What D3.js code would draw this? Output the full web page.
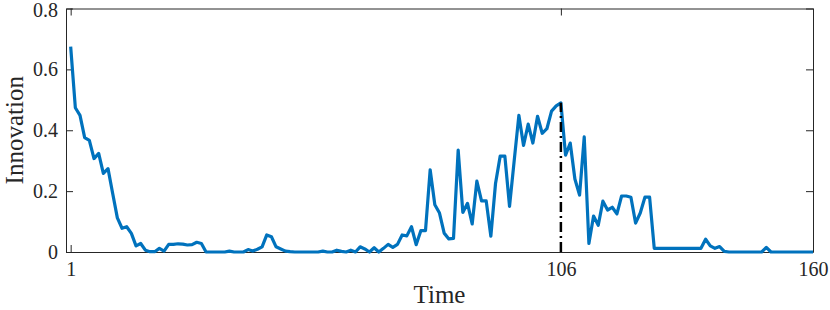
<!DOCTYPE html>
<html>
<head>
<meta charset="utf-8">
<script src="https://cdn.jsdelivr.net/npm/d3@7"></script>
<style>
  body { margin: 0; background: #fff; }
  text { font-family: "Liberation Serif", "Times New Roman", serif; fill: #262626; }
</style>
</head>
<body>
<div id="chart"></div>
<script>
// innovation per time step, 1..160
var innovation = [
  0.675, 0.474, 0.449, 0.376, 0.367, 0.307, 0.324, 0.258, 0.274, 0.192,
  0.112, 0.078, 0.083, 0.061, 0.020, 0.028, 0.006, 0.001, 0.001, 0.012,
  0.003, 0.025, 0.025, 0.027, 0.026, 0.023, 0.024, 0.032, 0.028, 0.000,
  0.000, 0.000, 0.000, 0.000, 0.003, 0.000, 0.000, 0.000, 0.008, 0.003,
  0.009, 0.017, 0.056, 0.050, 0.017, 0.010, 0.003, 0.001, 0.000, 0.000,
  0.000, 0.000, 0.000, 0.000, 0.003, 0.000, 0.000, 0.006, 0.002, 0.000,
  0.006, 0.000, 0.017, 0.010, 0.000, 0.014, 0.000, 0.012, 0.025, 0.015,
  0.025, 0.056, 0.053, 0.083, 0.024, 0.070, 0.070, 0.270, 0.155, 0.128,
  0.062, 0.043, 0.045, 0.335, 0.130, 0.160, 0.092, 0.233, 0.168, 0.168,
  0.052, 0.225, 0.315, 0.315, 0.150, 0.300, 0.449, 0.350, 0.420, 0.358,
  0.446, 0.390, 0.405, 0.463, 0.480, 0.490, 0.318, 0.358, 0.240, 0.187,
  0.378, 0.028, 0.118, 0.088, 0.167, 0.138, 0.147, 0.125, 0.184, 0.184,
  0.180, 0.095, 0.128, 0.180, 0.180, 0.012, 0.012, 0.012, 0.012, 0.012,
  0.012, 0.012, 0.012, 0.012, 0.012, 0.012, 0.042, 0.020, 0.012, 0.018,
  0.002, 0.000, 0.000, 0.000, 0.000, 0.000, 0.000, 0.000, 0.000, 0.015,
  0.000, 0.000, 0.000, 0.000, 0.000, 0.000, 0.000, 0.000, 0.000, 0.000
];
var xTicks = [1, 106, 160];
var yTicks = [0, 0.2, 0.4, 0.6, 0.8];
var markTime = 106;

var margin = {top: 8.5, right: 17, bottom: 58, left: 66};
var W = 830, H = 310;
var width = W - margin.left - margin.right;
var height = H - margin.top - margin.bottom;

var svg = d3.select("#chart").append("svg")
    .attr("width", W)
    .attr("height", H);

var g = svg.append("g")
    .attr("transform", "translate(" + margin.left + "," + margin.top + ")");

var x = d3.scaleLinear().domain([0, 160]).range([0, width]);
var y = d3.scaleLinear().domain([0, 0.8]).range([height, 0]);

var data = innovation.map(function(v, i){ return {t: i + 1, v: v}; });

// axes (MATLAB-like box with inward ticks)
var axColor = "#262626";
var tickLen = 7;

function styleAxis(sel){
    sel.select(".domain").attr("stroke", axColor).attr("stroke-width", 1);
    sel.selectAll(".tick line").attr("stroke", axColor).attr("stroke-width", 1);
}

var xAxis = g.append("g")
    .attr("transform", "translate(0," + height + ")")
    .call(d3.axisBottom(x).tickValues(xTicks).tickSize(-tickLen).tickSizeOuter(0).tickPadding(10).tickFormat(d3.format("d")));
styleAxis(xAxis);
xAxis.selectAll("text").attr("font-size", 20).attr("fill", axColor)
    .attr("font-family", "Liberation Serif, serif");

var xTop = g.append("g")
    .call(d3.axisTop(x).tickValues(xTicks).tickSize(-tickLen).tickSizeOuter(0).tickFormat(""));
styleAxis(xTop);

var yAxis = g.append("g")
    .call(d3.axisLeft(y).tickValues(yTicks).tickSize(-tickLen).tickSizeOuter(0).tickPadding(8).tickFormat(function(d){ return d === 0 ? "0" : d3.format(".1f")(d); }));
styleAxis(yAxis);
yAxis.selectAll("text").attr("font-size", 20).attr("fill", axColor)
    .attr("font-family", "Liberation Serif, serif")
    .attr("dy", function(d){ return d === 0.8 ? "0.4em" : "0.32em"; });

var yRight = g.append("g")
    .attr("transform", "translate(" + width + ",0)")
    .call(d3.axisRight(y).tickValues(yTicks).tickSize(-tickLen).tickSizeOuter(0).tickFormat(""));
styleAxis(yRight);

// series
var line = d3.line()
    .x(function(d){ return x(d.t); })
    .y(function(d){ return y(d.v); });

g.append("path")
    .datum(data)
    .attr("fill", "none")
    .attr("stroke", "#0072BD")
    .attr("stroke-width", 3.2)
    .attr("stroke-linejoin", "round")
    .attr("d", line);

// marker at t = 106
var markVal = innovation[markTime - 1];
g.append("line")
    .attr("x1", x(markTime)).attr("x2", x(markTime))
    .attr("y1", y(0)).attr("y2", y(markVal))
    .attr("stroke", "#000")
    .attr("stroke-width", 2.5)
    .attr("stroke-dasharray", "10,4,2,4");

// labels
svg.append("text")
    .attr("x", margin.left + width / 2)
    .attr("y", H - 7)
    .attr("text-anchor", "middle")
    .attr("font-size", 25)
    .text("Time");

svg.append("text")
    .attr("transform", "translate(23," + (margin.top + height / 2) + ") rotate(-90)")
    .attr("text-anchor", "middle")
    .attr("font-size", 25)
    .text("Innovation");
</script>
</body>
</html>
